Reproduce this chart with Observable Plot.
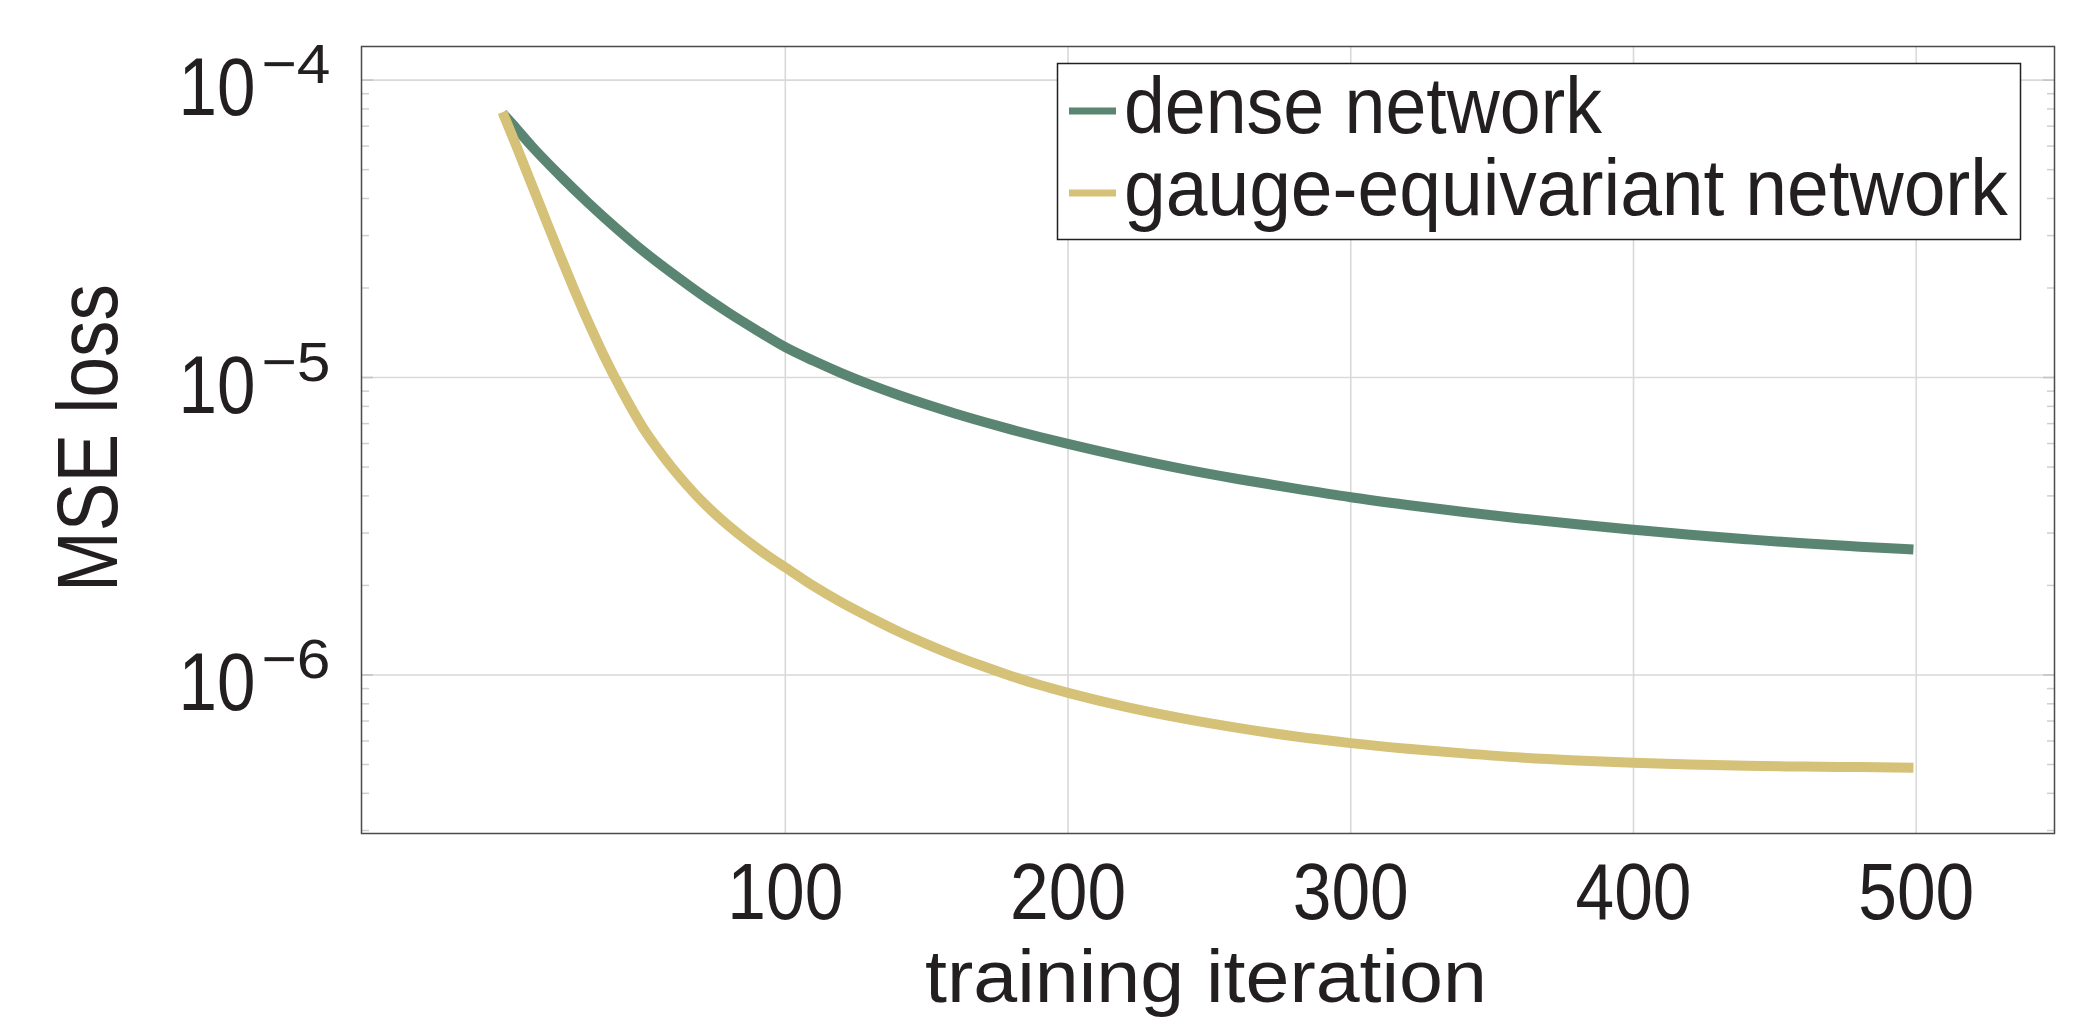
<!DOCTYPE html>
<html>
<head>
<meta charset="utf-8">
<script src="https://cdn.jsdelivr.net/npm/d3@7"></script>
<script src="https://cdn.jsdelivr.net/npm/@observablehq/plot@0.6"></script>
<style>
  body { margin: 0; background: #fff; }
  #wrap { position: relative; width: 2081px; height: 1018px; }
  #wrap > svg { display: block; }
  #legend { position: absolute; left: 0; top: 0; pointer-events: none; }
</style>
</head>
<body>
<div id="wrap"></div>
<script>
// ---- data ----
const seriesNames = ["dense network", "gauge-equivariant network"];
const seriesColors = ["#5a8572", "#d5c177"];

const denseIter = [0, 5, 10, 20, 30, 40, 50, 60, 70, 80, 90, 100, 110, 120, 130, 140, 150, 160, 170, 180, 190, 200,
  220, 240, 260, 280, 300, 320, 340, 360, 380, 400, 420, 440, 460, 480, 499];
const denseLoss = [7.73e-5, 6.85e-5, 6.04e-5, 4.81e-5, 3.89e-5, 3.19e-5, 2.65e-5, 2.24e-5, 1.91e-5, 1.65e-5, 1.44e-5,
  1.265e-5, 1.138e-5, 1.033e-5, 9.46e-6, 8.73e-6, 8.11e-6, 7.57e-6, 7.10e-6, 6.68e-6, 6.31e-6, 5.98e-6,
  5.41e-6, 4.94e-6, 4.56e-6, 4.24e-6, 3.96e-6, 3.73e-6, 3.53e-6, 3.36e-6, 3.21e-6, 3.08e-6, 2.96e-6,
  2.86e-6, 2.77e-6, 2.70e-6, 2.64e-6];

const gaugeIter = [0, 5, 10, 15, 20, 25, 30, 35, 40, 45, 50, 55, 60, 65, 70, 75, 80, 85, 90, 95, 100,
  110, 120, 130, 140, 150, 160, 170, 180, 190, 200, 220, 240, 260, 280, 300, 320, 340, 360, 380, 400,
  420, 440, 460, 480, 499];
const gaugeLoss = [7.80e-5, 5.96e-5, 4.53e-5, 3.44e-5, 2.62e-5, 2.01e-5, 1.56e-5, 1.23e-5, 9.89e-6, 8.07e-6,
  6.70e-6, 5.73e-6, 4.97e-6, 4.37e-6, 3.88e-6, 3.49e-6, 3.17e-6, 2.90e-6, 2.67e-6, 2.47e-6, 2.30e-6,
  1.99e-6, 1.75e-6, 1.56e-6, 1.40e-6, 1.27e-6, 1.16e-6, 1.07e-6, 9.91e-7, 9.25e-7, 8.71e-7,
  7.83e-7, 7.16e-7, 6.64e-7, 6.22e-7, 5.90e-7, 5.65e-7, 5.45e-7, 5.28e-7, 5.16e-7, 5.07e-7,
  5.00e-7, 4.95e-7, 4.92e-7, 4.90e-7, 4.88e-7];

const xTicks = [100, 200, 300, 400, 500];
const yMajor = [1e-6, 1e-5, 1e-4];
const yMinor = [3e-7, 4e-7, 5e-7, 6e-7, 7e-7, 8e-7, 9e-7,
  2e-6, 3e-6, 4e-6, 5e-6, 6e-6, 7e-6, 8e-6, 9e-6,
  2e-5, 3e-5, 4e-5, 5e-5, 6e-5, 7e-5, 8e-5, 9e-5];
const xDomain = [-49.9, 548.9];
const yDomain = [2.931e-7, 1.297e-4];
const xLabel = "training iteration";
const yLabel = "MSE loss";

// ---- table for the library ----
const rows = [
  ...denseIter.map((it, i) => ({series: seriesNames[0], iter: it, loss: denseLoss[i]})),
  ...gaugeIter.map((it, i) => ({series: seriesNames[1], iter: it, loss: gaugeLoss[i]}))
];

const FONT = '"Liberation Sans", "DejaVu Sans", sans-serif';
const INK = "#231f20";
const MINUS = "\u2212";

const chart = Plot.plot({
  width: 2081,
  height: 1018,
  marginLeft: 361,
  marginRight: 27,
  marginTop: 46,
  marginBottom: 185,
  style: {fontFamily: FONT, background: "white", color: INK, overflow: "visible"},
  x: {domain: xDomain, axis: null},
  y: {type: "log", domain: yDomain},
  color: {domain: seriesNames, range: seriesColors},
  marks: [
    Plot.gridX(xTicks, {stroke: "#d9d9d9", strokeOpacity: 1, strokeWidth: 1.6}),
    Plot.gridY(yMajor, {stroke: "#d9d9d9", strokeOpacity: 1, strokeWidth: 1.6}),
    Plot.axisY(yMinor, {anchor: "right", frameAnchor: "left", tickSize: 7, text: null, label: null, stroke: "#cfcfcf", strokeWidth: 1.5}),
    Plot.axisY(yMinor, {anchor: "left", frameAnchor: "right", tickSize: 7, text: null, label: null, stroke: "#cfcfcf", strokeWidth: 1.5}),
    Plot.axisY(yMajor, {anchor: "right", frameAnchor: "left", tickSize: 11, text: null, label: null, stroke: "#c4c4c4", strokeWidth: 1.6}),
    Plot.axisY(yMajor, {anchor: "left", frameAnchor: "right", tickSize: 11, text: null, label: null, stroke: "#c4c4c4", strokeWidth: 1.6}),
    Plot.line(rows, {x: "iter", y: "loss", z: "series", stroke: "series", strokeWidth: 10,
      curve: "monotone-x", strokeLinejoin: "round", strokeLinecap: "butt"}),
    Plot.frame({stroke: "#4a4a4a", strokeWidth: 1.5}),
    Plot.text(xTicks, {x: d => d, frameAnchor: "bottom", textAnchor: "middle", lineAnchor: "bottom", dy: 85,
      text: d => String(d), fontSize: 80, fill: INK}),
    Plot.text(yMajor, {y: d => d, frameAnchor: "left", textAnchor: "end", lineAnchor: "bottom", dx: -106, dy: 35,
      text: () => "10", fontSize: 81, fill: INK}),
    Plot.text(yMajor, {y: d => d, frameAnchor: "left", textAnchor: "start", lineAnchor: "bottom", dx: -100, dy: 3,
      text: d => MINUS + Math.round(-Math.log10(d)), fontSize: 56, fill: INK}),
    Plot.text([yLabel], {frameAnchor: "left", textAnchor: "middle", rotate: -90, lineAnchor: "bottom", dx: -245, dy: -2,
      text: d => d, fontSize: 85, fill: INK}),
    Plot.text([xLabel], {frameAnchor: "bottom", textAnchor: "middle", lineAnchor: "bottom", dy: 168, dx: -2,
      text: d => d, fontSize: 74, fill: INK})
  ]
});

const wrap = document.getElementById("wrap");
wrap.appendChild(chart);

// ---- legend overlay ----
const leg = d3.select(wrap).append("svg")
  .attr("id", "legend").attr("width", 2081).attr("height", 1018)
  .style("font-family", FONT);
leg.append("rect").attr("x", 1057.5).attr("y", 63.5).attr("width", 963).attr("height", 176)
  .attr("fill", "white").attr("stroke", INK).attr("stroke-width", 1.5);
const entryY = [133, 215];
seriesNames.forEach((name, i) => {
  leg.append("line").attr("x1", 1069).attr("x2", 1116)
    .attr("y1", entryY[i] - 22).attr("y2", entryY[i] - 22)
    .attr("stroke", seriesColors[i]).attr("stroke-width", 7);
  leg.append("text").attr("x", 1124).attr("y", entryY[i])
    .attr("font-size", 80).attr("fill", INK).text(name);
});

// ---- condense the sans face to the reference's narrow letterforms ----
function targetWidth(t) {
  if (/^\d{3}$/.test(t)) return 116;
  if (t === "10") return 77;
  if (/^\u2212\d$/.test(t)) return 69;
  if (t === yLabel) return 308;
  if (t === xLabel) return 562;
  if (t === seriesNames[0]) return 478;
  if (t === seriesNames[1]) return 884;
  return null;
}
d3.select(wrap).selectAll("text").each(function () {
  const w = targetWidth(this.textContent);
  if (!w) return;
  const natural = this.getComputedTextLength();
  if (!(natural > 0)) return;
  const f = w / natural;
  const x = +this.getAttribute("x") || 0;
  const y = +this.getAttribute("y") || 0;
  const t = this.getAttribute("transform") || "";
  this.removeAttribute("x");
  this.removeAttribute("y");
  this.setAttribute("transform", `${t} translate(${x},${y}) scale(${f},1)`.trim());
});
</script>
</body>
</html>
